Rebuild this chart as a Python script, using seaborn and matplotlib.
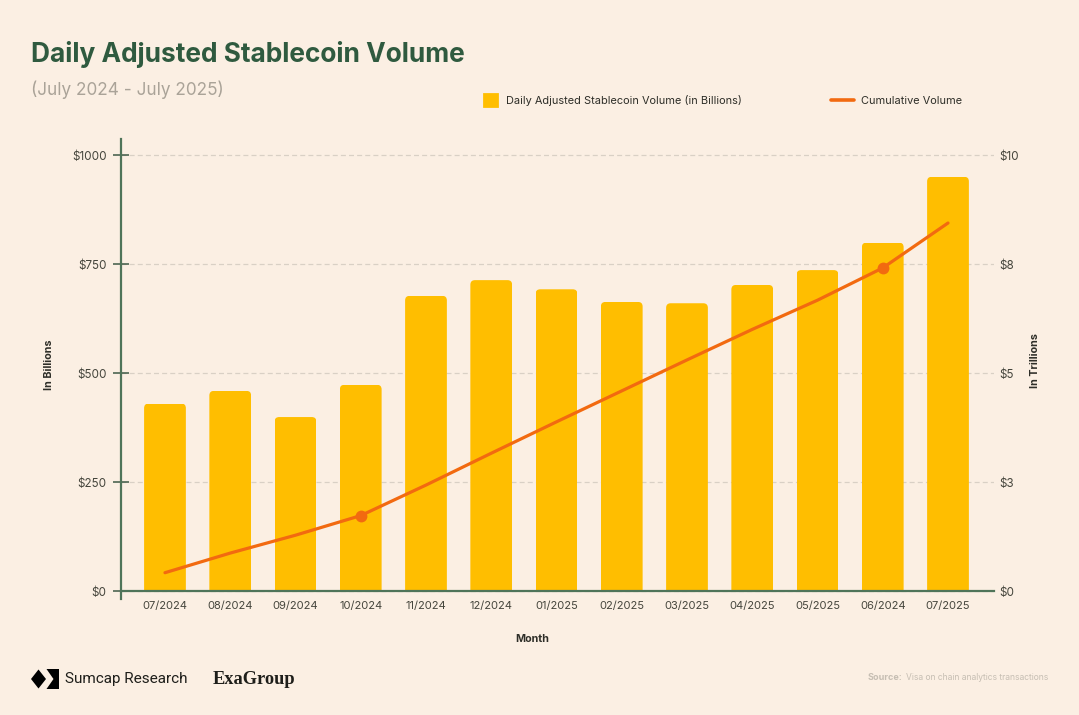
import numpy as np
import pandas as pd
import seaborn as sns
import matplotlib.pyplot as plt
from matplotlib.lines import Line2D
from matplotlib.patches import FancyBboxPatch, Patch, Polygon

# DATA
months = ['07/2024', '08/2024', '09/2024', '10/2024', '11/2024', '12/2024', '01/2025',
          '02/2025', '03/2025', '04/2025', '05/2025', '06/2024', '07/2025']
daily_volume = [430, 459, 399, 473, 677, 713, 692, 663, 660, 702, 736, 799, 950]
cumulative = [0.42, 0.87, 1.28, 1.73, 2.43, 3.16, 3.88, 4.59, 5.30, 6.00, 6.67, 7.41, 8.44]
left_ticks = [0, 250, 500, 750, 1000]
left_labels = ['$0', '$250', '$500', '$750', '$1000']
right_ticks = [0, 2.5, 5, 7.5, 10]
right_labels = ['$0', '$3', '$5', '$8', '$10']
marked_months = [3, 11]

# COLORS
BG = '#fbefe3'
GREEN = '#2f5a3f'
AXIS = '#4f7459'
BAR = '#ffbe00'
LINE = '#f26a10'
TEXT = '#45453c'

W, H = 1079, 715
sns.set_theme(style='white')
plt.rcParams['font.family'] = ['Inter', 'Lato', 'DejaVu Sans']

fig = plt.figure(figsize=(W / 100, H / 100), dpi=100, facecolor=BG)
ax = fig.add_axes([121 / W, 1 - 599 / H, 873 / W, 460 / H], facecolor=BG)


def fx(px):
    return px / W


def fy(py):
    return 1 - py / H


df = pd.DataFrame({'month': months, 'volume': daily_volume, 'pos': np.arange(len(months))})
sns.barplot(data=df, x='month', y='volume', color=BAR, saturation=1, width=0.64, linewidth=0,
            ax=ax, zorder=2)

# round the bar tops
for bar in ax.patches:
    clip = FancyBboxPatch((bar.get_x(), -60), bar.get_width(), bar.get_height() + 60,
                          boxstyle='round,pad=0,rounding_size=0.07', mutation_aspect=150,
                          transform=ax.transData, facecolor='none', edgecolor='none')
    bar.set_clip_path(clip)

ax.set_xlim(-0.674, 12.705)
ax.set_ylim(-18.3, 1036.7)
ax.set_yticks(left_ticks, left_labels)
ax.set_xticks(df['pos'], months)
ax.grid(axis='y', color='#d9d0c5', linestyle=(0, (4, 2.5)), linewidth=0.9, zorder=0)
ax.set_axisbelow(True)

for side in ['top', 'right']:
    ax.spines[side].set_visible(False)
ax.spines['bottom'].set_position(('data', 0))
ax.spines['bottom'].set_color(AXIS)
ax.spines['bottom'].set_linewidth(1.6)
ax.spines['left'].set_color(AXIS)
ax.spines['left'].set_linewidth(1.6)

ax.tick_params(axis='x', length=0, pad=7.5, labelsize=8.0, labelcolor=TEXT)
ax.tick_params(axis='y', direction='inout', length=12, width=1.1, color='#3f5a46',
               pad=4.4, labelsize=8.4, labelcolor=TEXT)

ax.set_xlabel('Month', fontsize=7.8, fontweight='bold', color='#2e2e28')
ax.xaxis.set_label_coords((532 - 121) / 873, (599 - 639) / 460, transform=ax.transAxes)
ax.xaxis.label.set_verticalalignment('center')
ax.set_ylabel('In Billions', fontsize=7.8, fontweight='bold', color='#2e2e28')
ax.yaxis.set_label_coords((49 - 121) / 873, (599 - 365) / 460, transform=ax.transAxes)
ax.yaxis.label.set_verticalalignment('center')

# cumulative line on the right axis
ax2 = ax.twinx()
sns.lineplot(data=df.assign(cum=cumulative), x='pos', y='cum', color=LINE, linewidth=2.3,
             marker='o', markersize=8.5, markevery=marked_months, markeredgewidth=0,
             errorbar=None, ax=ax2)
ax2.set_ylim(-0.183, 10.367)
ax2.set_yticks(right_ticks, right_labels)
ax2.tick_params(axis='y', length=0, pad=3.5, labelsize=8.4, labelcolor=TEXT)
for side in ax2.spines:
    ax2.spines[side].set_visible(False)
ax2.set_xlabel('')
ax2.set_ylabel('In Trillions', fontsize=7.8, fontweight='bold', color='#2e2e28')
ax2.yaxis.set_label_coords((1035 - 121) / 873, (599 - 361) / 460, transform=ax2.transAxes)
ax2.yaxis.label.set_verticalalignment('center')

# legends, one each so the handles can differ
bar_handle = Patch(facecolor=BAR, edgecolor=BAR, linewidth=2, joinstyle='round')
line_handle = Line2D([0], [0], color=LINE, linewidth=2.6)
leg_style = dict(frameon=False, fontsize=7.9, labelcolor='#2e2e28', borderpad=0, borderaxespad=0,
                 loc='center left')
fig.legend([bar_handle], ['Daily Adjusted Stablecoin Volume (in Billions)'],
           bbox_to_anchor=(fx(484), fy(100)), handlelength=1.2, handleheight=1.2,
           handletextpad=0.8, **leg_style)
fig.legend([line_handle], ['Cumulative Volume'],
           bbox_to_anchor=(fx(831), fy(101)), handlelength=2.1, handletextpad=0.6, **leg_style)

# heading
fig.text(fx(31), fy(54.5), 'Daily Adjusted Stablecoin Volume', fontsize=18.9, fontweight='bold',
         color=GREEN, va='center', ha='left')
fig.text(fx(31), fy(90), '(July 2024 - July 2025)', fontsize=12.35, color='#aaa398', va='center', ha='left')

# footer logos
fig.add_artist(Polygon([(fx(31), fy(679)), (fx(38.5), fy(669.5)), (fx(46), fy(679)), (fx(38.5), fy(688.5))],
                       closed=True, facecolor='black', edgecolor='none', transform=fig.transFigure))
fig.add_artist(Polygon([(fx(46.5), fy(669)), (fx(59), fy(669)), (fx(59), fy(689)), (fx(46.5), fy(689)),
                        (fx(53.5), fy(679))],
                       closed=True, facecolor='black', edgecolor='none', transform=fig.transFigure))
fig.text(fx(65), fy(679.5), 'Sumcap Research', fontsize=11, color='#1e1e1a', va='center', ha='left',
         family=['Roboto', 'DejaVu Sans'])
fig.text(fx(213), fy(679.5), 'ExaGroup', fontsize=13.2, fontweight='bold', color='#1e1e1a', va='center',
         ha='left', family=['Liberation Serif', 'DejaVu Serif'])

# source
src_color = '#c6beb3'
fig.text(fx(1048), fy(677.5), 'Visa on chain analytics transactions', fontsize=6.1, color=src_color,
         va='center', ha='right')
fig.text(fx(902), fy(677.5), 'Source:', fontsize=6.5, fontweight='bold', color=src_color,
         va='center', ha='right')

fig.savefig('out.png', dpi=100, facecolor=BG)
